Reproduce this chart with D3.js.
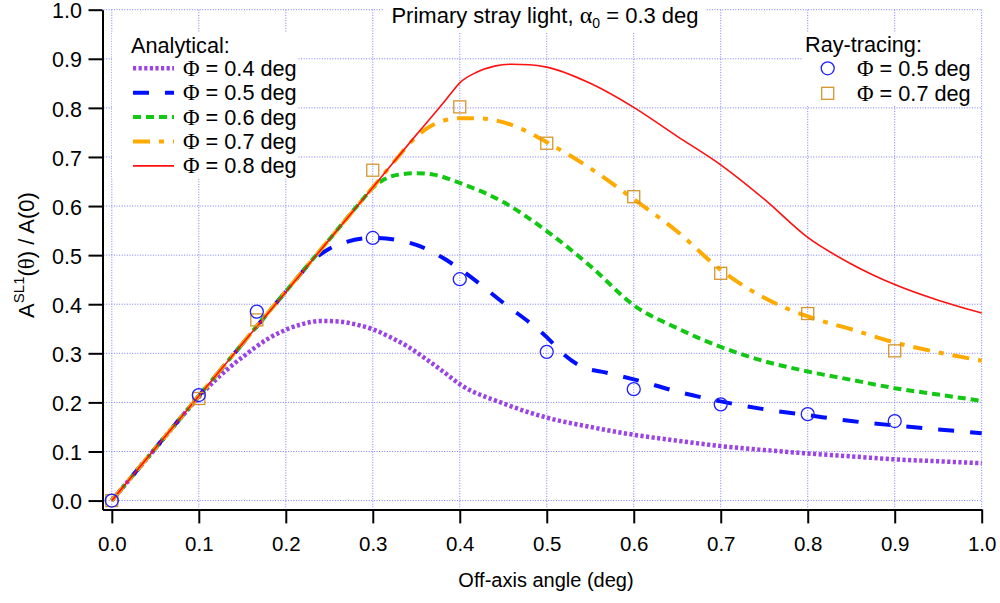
<!DOCTYPE html>
<html><head><meta charset="utf-8">
<script src="https://cdn.jsdelivr.net/npm/d3@7"></script>
<style>
body{margin:0;background:#fff;}
svg text{font-family:Arial,"Liberation Sans",sans-serif;fill:#000;}
</style></head>
<body><svg id="c" width="1000" height="603"></svg>
<script>
// ---- data ----
const xTicks = [0,0.1,0.2,0.3,0.4,0.5,0.6,0.7,0.8,0.9,1.0];
const yTicks = [0,0.1,0.2,0.3,0.4,0.5,0.6,0.7,0.8,0.9,1.0];

const phi04X = [0,0.05,0.08,0.1,0.12,0.15,0.18,0.2,0.22,0.24,0.26,0.28,0.3,0.32,0.34,0.36,0.38,0.4,0.45,0.5,0.55,0.6,0.65,0.7,0.75,0.8,0.85,0.9,0.95,1.0];
const phi04Y = [0,0.106,0.170,0.211,0.247,0.292,0.330,0.348,0.360,0.366,0.365,0.359,0.349,0.333,0.314,0.290,0.264,0.237,0.198,0.169,0.150,0.134,0.122,0.111,0.103,0.096,0.090,0.084,0.080,0.076];

const phi05X = [0,0.1,0.15,0.2,0.21,0.22,0.23,0.25,0.27,0.3,0.33,0.35,0.38,0.4,0.45,0.5,0.52,0.54,0.57,0.6,0.65,0.7,0.75,0.8,0.85,0.9,0.95,1.0];
const phi05Y = [0,0.213,0.319,0.426,0.447,0.468,0.487,0.513,0.527,0.535,0.530,0.521,0.495,0.472,0.403,0.333,0.297,0.273,0.260,0.247,0.222,0.202,0.186,0.174,0.162,0.153,0.145,0.137];

const phi06X = [0,0.1,0.2,0.25,0.28,0.29,0.3,0.31,0.33,0.35,0.37,0.4,0.45,0.5,0.55,0.6,0.65,0.7,0.75,0.8,0.85,0.9,0.95,1.0];
const phi06Y = [0,0.213,0.426,0.532,0.596,0.617,0.637,0.651,0.664,0.667,0.664,0.647,0.608,0.549,0.478,0.398,0.351,0.313,0.284,0.263,0.246,0.229,0.216,0.203];

const phi07X = [0,0.1,0.2,0.25,0.3,0.33,0.34,0.35,0.37,0.4,0.42,0.44,0.47,0.5,0.55,0.6,0.65,0.7,0.75,0.8,0.85,0.9,0.95,1.0];
const phi07Y = [0,0.213,0.426,0.532,0.638,0.702,0.723,0.741,0.766,0.779,0.779,0.775,0.758,0.730,0.677,0.614,0.548,0.470,0.413,0.375,0.349,0.322,0.302,0.285];

const phi08X = [0,0.1,0.2,0.3,0.35,0.38,0.39,0.4,0.42,0.44,0.46,0.48,0.5,0.55,0.6,0.65,0.7,0.75,0.8,0.85,0.9,0.95,1.0];
const phi08Y = [0,0.213,0.425,0.638,0.745,0.808,0.830,0.851,0.873,0.885,0.889,0.888,0.883,0.850,0.801,0.742,0.684,0.614,0.536,0.482,0.440,0.408,0.382];

const rt05X = [0,0.1,0.1667,0.3,0.4,0.5,0.6,0.7,0.8,0.9];
const rt05Y = [0,0.215,0.385,0.535,0.451,0.303,0.227,0.196,0.176,0.162];
const rt07X = [0,0.1,0.1667,0.3,0.4,0.5,0.6,0.7,0.8,0.9];
const rt07Y = [0,0.208,0.368,0.673,0.802,0.728,0.619,0.463,0.381,0.305];

const seriesNames = ["0.4","0.5","0.6","0.7","0.8"];
const rtNames = ["0.5","0.7"];

// ---- layout ----
const svg = d3.select("#c");
const x = d3.scaleLinear().domain([-0.0107,1]).range([102.5,981.7]);
const y = d3.scaleLinear().domain([-0.018,1]).range([509.4,9.7]);

const analytic = [
  {name:seriesNames[0], xs:phi04X, ys:phi04Y, color:"#9a44e6", w:4.5, dash:"3.2,2.4"},
  {name:seriesNames[1], xs:phi05X, ys:phi05Y, color:"#0010ff", w:4, dash:"16,16"},
  {name:seriesNames[2], xs:phi06X, ys:phi06Y, color:"#12c812", w:4, dash:"8,5"},
  {name:seriesNames[3], xs:phi07X, ys:phi07Y, color:"#ffaa00", w:4, dash:"17,9,5,9"},
  {name:seriesNames[4], xs:phi08X, ys:phi08Y, color:"#ff1010", w:1.6, dash:null}
];

// grid
const grid = svg.append("g").attr("stroke","#7b7bff").attr("stroke-width",1).attr("stroke-dasharray","1,1.6");
grid.selectAll("line.h").data(yTicks).join("line").attr("class","h")
  .attr("x1",x.range()[0]+1).attr("x2",x(1)).attr("y1",d=>y(d)).attr("y2",d=>y(d));
grid.selectAll("line.v").data(xTicks).join("line").attr("class","v")
  .attr("x1",d=>x(d)).attr("x2",d=>x(d)).attr("y1",y(1)).attr("y2",y.range()[0]-1);

// white boxes (title & legends)
svg.append("rect").attr("x",383).attr("y",0).attr("width",322).attr("height",33).attr("fill","#fff");
svg.append("rect").attr("x",112).attr("y",33).attr("width",186).attr("height",145).attr("fill","#fff");
svg.append("rect").attr("x",803).attr("y",33).attr("width",177).attr("height",73).attr("fill","#fff");

// axes
const yAxis = d3.axisLeft(y).tickValues(yTicks).tickFormat(d3.format(".1f")).tickSizeInner(14).tickSizeOuter(0).tickPadding(6.5);
const xAxis = d3.axisBottom(x).tickValues(xTicks).tickFormat(d3.format(".1f")).tickSizeInner(14).tickSizeOuter(0).tickPadding(13);
const gy = svg.append("g").attr("transform",`translate(${x.range()[0]},0)`).call(yAxis);
const gx = svg.append("g").attr("transform",`translate(0,${y.range()[0]})`).call(xAxis);
[gx,gy].forEach(g=>{
  g.selectAll("path,line").attr("stroke","#000").attr("stroke-width",2);
  g.selectAll("text").attr("font-size",20.5).attr("font-family","Arial,'Liberation Sans',sans-serif").attr("fill","#000");
});
gy.selectAll("text").attr("font-size",21.5).attr("dy","0.38em");

// clip
svg.append("clipPath").attr("id","clip").append("rect")
  .attr("x",x.range()[0]+1).attr("y",0).attr("width",x(1)-x.range()[0]+2).attr("height",y.range()[0]-1);

const line = d3.line().x(d=>x(d[0])).y(d=>y(d[1])).curve(d3.curveMonotoneX);
const plot = svg.append("g").attr("clip-path","url(#clip)");
analytic.forEach(s=>{
  const pts = s.xs.map((v,i)=>[v,s.ys[i]]);
  plot.append("path").datum(pts).attr("d",line).attr("fill","none")
    .attr("stroke",s.color).attr("stroke-width",s.w)
    .attr("stroke-dasharray",s.dash).attr("stroke-linejoin","round");
});

// ray-tracing markers
const circColor = "#1e1eff", sqColor = "#d4962c";
plot.selectAll("rect.sq").data(rt07X.map((v,i)=>[v,rt07Y[i]])).join("rect").attr("class","sq")
  .attr("x",d=>x(d[0])-6).attr("y",d=>y(d[1])-6).attr("width",12).attr("height",12)
  .attr("fill","none").attr("stroke",sqColor).attr("stroke-width",1.3);
plot.selectAll("circle.c").data(rt05X.map((v,i)=>[v,rt05Y[i]])).join("circle").attr("class","c")
  .attr("cx",d=>x(d[0])).attr("cy",d=>y(d[1])).attr("r",6.5)
  .attr("fill","none").attr("stroke",circColor).attr("stroke-width",1.3);

// title
const greek = "'Liberation Serif','DejaVu Serif',serif";
const t = svg.append("text").attr("x",545).attr("y",23).attr("text-anchor","middle").attr("font-size",22);
t.append("tspan").text("Primary stray light, ");
t.append("tspan").attr("font-family",greek).attr("font-size",24).text("α");
t.append("tspan").attr("font-size",14).attr("dy",5).text("0");
t.append("tspan").attr("dy",-5).text(" = 0.3 deg");

// left legend
const LF = 21.7;
svg.append("text").attr("x",131).attr("y",53).attr("font-size",LF).text("Analytical:");
analytic.forEach((s,i)=>{
  const ly = 68.3 + i*24.4;
  svg.append("line").attr("x1",133).attr("x2",174).attr("y1",ly).attr("y2",ly)
    .attr("stroke",s.color).attr("stroke-width",s.w).attr("stroke-dasharray",s.dash);
  const tt = svg.append("text").attr("x",183).attr("y",ly+7.5).attr("font-size",LF);
  tt.append("tspan").attr("font-family",greek).attr("font-size",LF+1).text("Φ");
  tt.append("tspan").text(" = " + s.name + " deg");
});

// right legend
svg.append("text").attr("x",805).attr("y",52).attr("font-size",LF).text("Ray-tracing:");
svg.append("circle").attr("cx",827.7).attr("cy",68.3).attr("r",6.5).attr("fill","none").attr("stroke",circColor).attr("stroke-width",1.3);
svg.append("rect").attr("x",821.7).attr("y",87.3).attr("width",12).attr("height",12).attr("fill","none").attr("stroke",sqColor).attr("stroke-width",1.3);
rtNames.forEach((n,i)=>{
  const tt = svg.append("text").attr("x",857).attr("y",68.3+i*25+7.5).attr("font-size",LF);
  tt.append("tspan").attr("font-family",greek).attr("font-size",LF+1).text("Φ");
  tt.append("tspan").text(" = " + n + " deg");
});

// axis labels
svg.append("text").attr("x",546).attr("y",587).attr("text-anchor","middle").attr("font-size",20).text("Off-axis angle (deg)");
const yl = svg.append("text").attr("transform","translate(34,255) rotate(-90)").attr("text-anchor","middle").attr("font-size",22);
yl.append("tspan").text("A");
yl.append("tspan").attr("font-size",15).attr("dy",-10).text("SL1");
yl.append("tspan").attr("dy",10).text("(");
yl.append("tspan").attr("font-family",greek).attr("font-size",23).text("θ");
yl.append("tspan").text(") / A(0)");
</script></body></html>
